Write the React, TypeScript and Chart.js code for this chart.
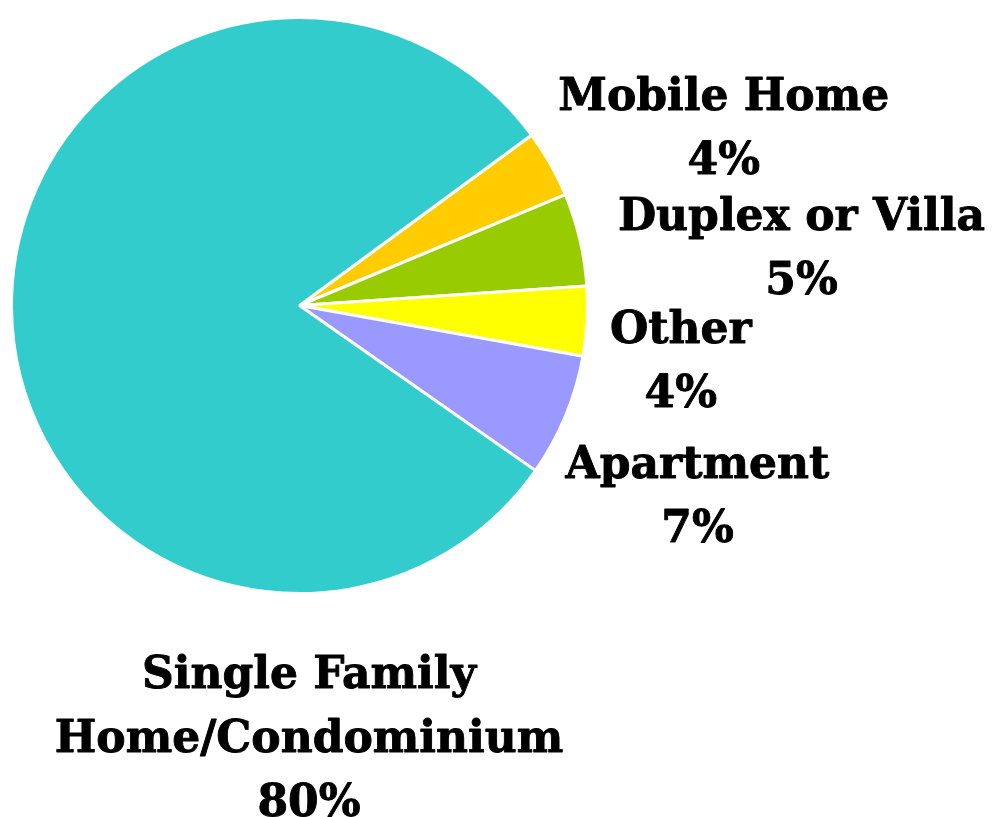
import React, { useEffect, useRef } from "react";
import { Chart, registerables } from "chart.js";

Chart.register(...registerables);

// ---- data ----
const categories = ["Mobile Home", "Duplex or Villa", "Other", "Apartment", "Single Family Home/Condominium"];
const labelLines = [["Mobile Home"], ["Duplex or Villa"], ["Other"], ["Apartment"], ["Single Family", "Home/Condominium"]];
const shares = [3.8, 5.2, 3.9, 6.9, 80.2];
const colors = ["#FFCC00", "#99CC00", "#FFFF00", "#9999FF", "#33CCCC"];
// label block centres, relative to the pie centre, in units of the pie radius
const labelAnchors = [
  [1.473, -0.623],
  [1.743, -0.208],
  [1.324, 0.184],
  [1.382, 0.653],
  [0.033, 1.493],
];

const FONT_SIZE = 44;
const LINE_H = 64;
const CAP_H = 0.729 * FONT_SIZE;

const labelPlugin = {
  id: "pieLabels",
  afterDatasetsDraw(chart: any) {
    const ctx = chart.ctx;
    const meta = chart.getDatasetMeta(0);
    const data = chart.data.datasets[0].data as number[];
    const total = data.reduce((a, b) => a + b, 0);
    ctx.save();
    ctx.font = `bold ${FONT_SIZE}px "DejaVu Serif"`;
    ctx.fillStyle = "#000000";
    ctx.strokeStyle = "#000000";
    ctx.lineWidth = 0.9;
    ctx.lineJoin = "round";
    ctx.textAlign = "center";
    ctx.textBaseline = "alphabetic";
    meta.data.forEach((arc: any, i: number) => {
      const { x, y, outerRadius } = arc.getProps(["x", "y", "outerRadius"], true);
      const pct = Math.round((data[i] / total) * 100) + "%";
      const lines = [...labelLines[i], pct];
      const cx = x + labelAnchors[i][0] * outerRadius;
      const cy = y + labelAnchors[i][1] * outerRadius;
      const n = lines.length;
      lines.forEach((t, j) => {
        const lc = cy + (j - (n - 1) / 2) * LINE_H;
        ctx.fillText(t, cx, lc + CAP_H / 2);
        ctx.strokeText(t, cx, lc + CAP_H / 2);
      });
    });
    ctx.restore();
  },
};

export default function App() {
  const ref = useRef<HTMLCanvasElement>(null);
  useEffect(() => {
    document.body.style.margin = "0";
    const chart = new Chart(ref.current!, {
      type: "pie",
      data: {
        labels: categories,
        datasets: [
          {
            data: shares,
            backgroundColor: colors,
            borderColor: "#FFFFFF",
            borderWidth: 3,
            hoverOffset: 0,
          },
        ],
      },
      options: {
        responsive: false,
        animation: false,
        rotation: 53.7,
        layout: { padding: { left: 10, top: 16, right: 406, bottom: 222 } },
        plugins: {
          legend: { display: false },
          tooltip: { enabled: false },
        },
        events: [],
      },
      plugins: [labelPlugin],
    });
    return () => chart.destroy();
  }, []);
  return (
    <div style={{ width: 995, height: 817, background: "#fff" }}>
      <canvas ref={ref} width={995} height={817} style={{ display: "block" }} />
    </div>
  );
}
